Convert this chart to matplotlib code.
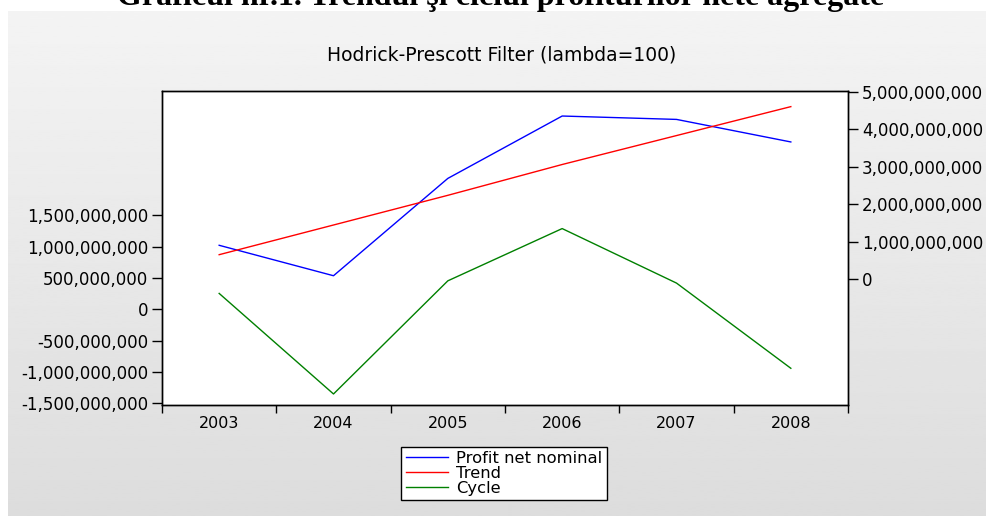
import numpy as np
import matplotlib.pyplot as plt
from matplotlib.ticker import FuncFormatter, FixedLocator

years = ["2003", "2004", "2005", "2006", "2007", "2008"]
profit = [0.91e9, 0.10e9, 2.69e9, 4.35e9, 4.26e9, 3.66e9]
trend = [0.66e9, 1.45e9, 2.24e9, 3.06e9, 3.83e9, 4.60e9]
cycle = [0.255e9, -1.35e9, 0.456e9, 1.29e9, 0.42e9, -0.94e9]

W, H = 987, 516
fig = plt.figure(figsize=(W / 100, H / 100), dpi=100)
fig.patch.set_facecolor("white")

# grey gradient panel behind the chart
bg = fig.add_axes([8 / W, 0, 1 - 8 / W, (H - 11) / H])
grad = np.linspace(0.955, 0.865, 256).reshape(-1, 1)
bg.imshow(grad, cmap="gray", vmin=0, vmax=1, aspect="auto", extent=[0, 1, 0, 1])
bg.set_axis_off()

# heading of the page, cut off at the top like in the source
fig.text(501 / W, 1 - 5 / H, "Graficul nr.1. Trendul şi ciclul profiturilor nete agregate",
         ha="center", va="baseline", fontsize=23, fontweight="bold",
         family="Liberation Serif")
fig.text(502 / W, 1 - 55 / H, "Hodrick-Prescott Filter (lambda=100)",
         ha="center", va="center", fontsize=13.5, family="DejaVu Sans")

ax = fig.add_axes([162 / W, (H - 405) / H, (848 - 162) / W, (405 - 91) / H])
ax2 = ax.twinx()

x = np.arange(len(years))
l3, = ax.plot(x, cycle, color="#008000", lw=1.0)
l1, = ax2.plot(x, profit, color="#0000ff", lw=1.0)
l2, = ax2.plot(x, trend, color="#ff0000", lw=1.0)

ax.set_xlim(-0.5, len(years) - 0.5)
ax.set_ylim(-1.526e9, 3.486e9)
ax2.set_ylim(-3.34e9, 5.016e9)

fmt = FuncFormatter(lambda v, p: f"{v:,.0f}")
ax.yaxis.set_major_locator(FixedLocator(np.arange(-1.5e9, 1.6e9, 5e8)))
ax.yaxis.set_major_formatter(fmt)
ax2.yaxis.set_major_locator(FixedLocator(np.arange(0, 5.1e9, 1e9)))
ax2.yaxis.set_major_formatter(fmt)

ax.set_xticks(np.arange(-0.5, len(years), 1.0))
ax.set_xticklabels([])
ax.set_xticks(x, minor=True)
ax.set_xticklabels(years, minor=True)
ax.tick_params(axis="x", which="minor", length=0, pad=8, labelsize=11.5)
ax.tick_params(axis="x", which="major", direction="out", length=6, width=1)
for a in (ax, ax2):
    a.tick_params(axis="y", direction="out", length=7, width=1, pad=3, labelsize=12)
    for s in a.spines.values():
        s.set_linewidth(1.0)

fig.legend([l1, l2, l3], ["Profit net nominal", "Trend", "Cycle"],
           loc="upper center", bbox_to_anchor=(504 / W, 1 - 447 / H),
           fontsize=11.8, frameon=True, fancybox=False, edgecolor="black",
           framealpha=1, handlelength=2.6, handletextpad=0.5,
           labelspacing=0.0, borderpad=0.25, borderaxespad=0)

fig.savefig("out.png", dpi=100)
